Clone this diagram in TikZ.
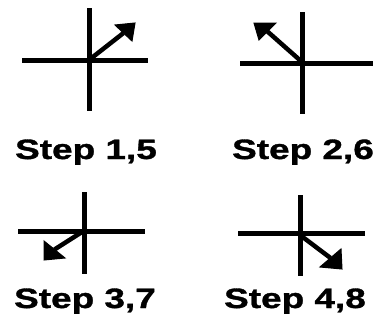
\documentclass[tikz,border=0pt]{standalone}
\usepackage{fontspec}
\setmainfont{Liberation Sans}
\newfontfamily\lblfont{Liberation Sans Bold}[FakeStretch=1.32, FakeBold=1.2]
\usetikzlibrary{calc}
\tikzset{
  axis/.style={line width=5pt, line cap=butt},
  shaft/.style={line width=4.5pt},
  head/.style={fill=black, draw=black, line width=1pt, line join=miter},
  lbl/.style={anchor=base, inner sep=0pt, font=\lblfont\fontsize{28}{30}\selectfont}
}
\begin{document}
\begin{tikzpicture}[x=1pt,y=-1pt]
\useasboundingbox (0,0) rectangle (381,324);
% panel 1
\coordinate (c1) at (89,60);
\draw[axis] (89,8) -- (89,111);
\draw[axis] (22,60) -- (148,60);
\coordinate (t1) at (135,23);
\coordinate (a1) at (115,25);
\coordinate (b1) at (132,41);
\draw[shaft] (c1) -- ($(a1)!0.5!(b1)$);
\fill[head] (t1) -- (a1) -- (b1) -- cycle;
\node[lbl] (l1) at (86,159) {Step 1,5};
% panel 2
\coordinate (c2) at (302,62);
\draw[axis] (302,12) -- (302,114);
\draw[axis] (240,63) -- (373,63);
\coordinate (t2) at (254,23);
\coordinate (a2) at (276,23);
\coordinate (b2) at (259,40);
\draw[shaft] (c2) -- ($(a2)!0.5!(b2)$);
\fill[head] (t2) -- (a2) -- (b2) -- cycle;
\node[lbl] (l2) at (303,159) {Step 2,6};
% panel 3
\coordinate (c3) at (82,232);
\draw[axis] (84,192) -- (84,274);
\draw[axis] (18,231) -- (145,231);
\coordinate (t3) at (44,260);
\coordinate (a3) at (44,241);
\coordinate (b3) at (65,258);
\draw[shaft] (c3) -- ($(a3)!0.5!(b3)$);
\fill[head] (t3) -- (a3) -- (b3) -- cycle;
\node[lbl] (l3) at (85,308) {Step 3,7};
% panel 4
\coordinate (c4) at (300,235);
\draw[axis] (300,195) -- (300,276);
\draw[axis] (238,233) -- (365,233);
\coordinate (t4) at (342,269);
\coordinate (a4) at (341,249);
\coordinate (b4) at (320,267);
\draw[shaft] (c4) -- ($(a4)!0.5!(b4)$);
\fill[head] (t4) -- (a4) -- (b4) -- cycle;
\node[lbl] (l4) at (295,308) {Step 4,8};
\end{tikzpicture}
\end{document}
